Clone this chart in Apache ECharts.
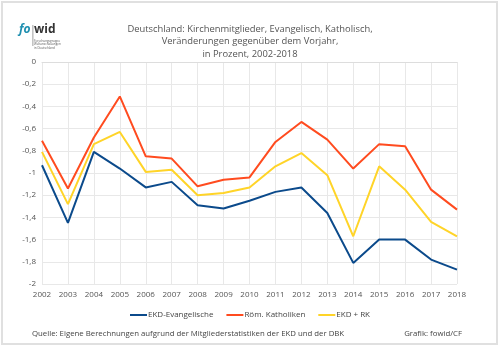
<!DOCTYPE html>
<html><head><meta charset="utf-8">
<script src="https://cdn.jsdelivr.net/npm/echarts@6/dist/echarts.min.js"></script>
<style>html,body{margin:0;padding:0;background:#fff}#c{width:500px;height:347px}</style>
</head><body><div id="c"></div>
<script>
const years = ['2002','2003','2004','2005','2006','2007','2008','2009','2010','2011','2012','2013','2014','2015','2016','2017','2018'];
const ekd = [-0.93,-1.45,-0.81,-0.96,-1.13,-1.08,-1.29,-1.32,-1.25,-1.17,-1.13,-1.36,-1.81,-1.60,-1.60,-1.78,-1.87];
const rk  = [-0.71,-1.14,-0.68,-0.31,-0.85,-0.87,-1.12,-1.06,-1.04,-0.72,-0.54,-0.70,-0.96,-0.74,-0.76,-1.15,-1.33];
const sum = [-0.81,-1.28,-0.74,-0.63,-0.99,-0.97,-1.20,-1.18,-1.13,-0.94,-0.82,-1.02,-1.57,-0.94,-1.15,-1.44,-1.57];
const names = ['EKD-Evangelische','Röm. Katholiken','EKD + RK'];
const colors = ['#0b4a8b','#ff4b1f','#ffd428'];
const font = "'Open Sans', 'Noto Sans', sans-serif";
const chart = echarts.init(document.getElementById('c'), null, {renderer:'canvas'});
chart.setOption({
  animation:false,
  textStyle:{fontFamily:font},
  title:{
    text:'Deutschland: Kirchenmitglieder, Evangelisch, Katholisch,\nVeränderungen gegenüber dem Vorjahr,\nin Prozent, 2002-2018',
    left:'center', top:18,
    textStyle:{fontSize:9.4, fontWeight:'normal', color:'#555', lineHeight:12.5, fontFamily:font}
  },
  legend:{
    top:306, left:'center', itemWidth:17, itemHeight:2, itemGap:13,
    icon:'rect',
    textStyle:{fontSize:8, color:'#444', fontFamily:font, padding:[0,0,0,-4]},
    data:names
  },
  grid:{left:42, right:43, top:62, bottom:63},
  xAxis:{
    type:'category', data:years, boundaryGap:false,
    axisLine:{lineStyle:{color:'#ddd'}},
    axisTick:{show:false},
    axisLabel:{fontSize:8, color:'#555', margin:7, fontFamily:font},
    splitLine:{show:true, lineStyle:{color:'#e8e8e8'}}
  },
  yAxis:{
    type:'value', min:-2, max:0, interval:0.2,
    axisLine:{show:false}, axisTick:{show:false},
    axisLabel:{fontSize:8, color:'#555', margin:6, fontFamily:font,
      formatter:v=>String(Math.round(v*10)/10).replace('.',',')},
    splitLine:{lineStyle:{color:'#e8e8e8'}}
  },
  series:[
    {name:names[0], type:'line', data:ekd, symbol:'none', lineStyle:{width:2, color:colors[0]}, itemStyle:{color:colors[0]}},
    {name:names[1], type:'line', data:rk, symbol:'none', lineStyle:{width:2, color:colors[1]}, itemStyle:{color:colors[1]}},
    {name:names[2], type:'line', data:sum, symbol:'none', lineStyle:{width:2, color:colors[2]}, itemStyle:{color:colors[2]}}
  ],
  graphic:[
    {type:'rect', shape:{x:2, y:2, width:495, height:342}, style:{fill:'none', stroke:'#e0e0e0', lineWidth:2}, silent:true},
    {type:'text', left:32, top:330, style:{text:'Quelle: Eigene Berechnungen aufgrund der Mitgliederstatistiken der EKD und der DBK', fontSize:7.8, fill:'#444', fontFamily:font}},
    {type:'text', right:38, top:330, style:{text:'Grafik: fowid/CF', fontSize:7.8, fill:'#444', fontFamily:font}},
    {type:'text', left:19, top:24, style:{text:'fo', fontSize:12, fontStyle:'italic', fontWeight:'bold', fill:'#1f8fb0', fontFamily:font}},
    {type:'rect', shape:{x:32.5, y:25, width:0.8, height:21}, style:{fill:'#888'}},
    {type:'text', left:34, top:24, style:{text:'wid', fontSize:12, fontWeight:'bold', fill:'#333', fontFamily:font}},
    {type:'text', left:34, top:39, style:{text:'Forschungsgruppe\nWeltanschauungen\nin Deutschland', fontSize:3, lineHeight:3.5, fill:'#555', fontFamily:font}}
  ]
});
</script></body></html>
